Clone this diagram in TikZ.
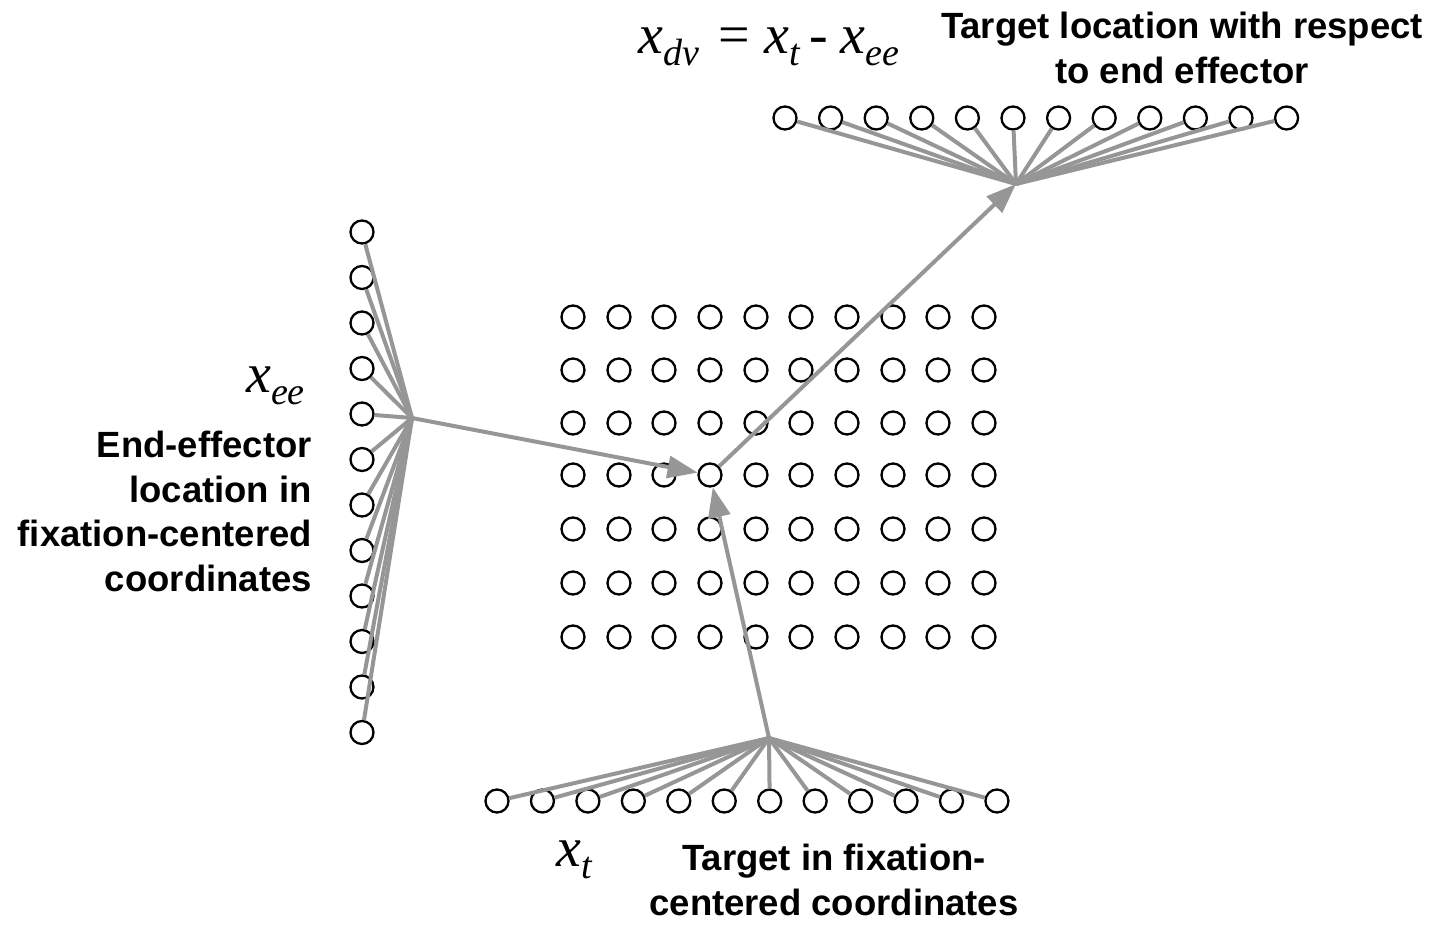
\documentclass[tikz,border=0pt]{standalone}
\usepackage{fontspec}
\setmainfont{Liberation Serif}
\newfontfamily\lsans{Liberation Sans}
\usetikzlibrary{arrows.meta}
\definecolor{lc}{RGB}{150,150,150}
\tikzset{
 unit/.style={circle,draw=black,line width=2.3pt,minimum size=23pt,inner sep=0pt},
 conn/.style={draw=lc,line width=4pt},
 arr/.style={conn,-{Triangle[length=30pt,width=22pt]}},
 lbl/.style={font=\lsans\bfseries\fontsize{36.5}{44.5}\selectfont,inner sep=0pt},
 mth/.style={font=\fontsize{56}{58}\selectfont\itshape,inner sep=0pt}
}
\newcommand\vsub[2]{#1\raisebox{-12pt}{\fontsize{38}{40}\selectfont #2}}
\begin{document}
\begin{tikzpicture}[x=1pt,y=-1pt]
\useasboundingbox (0,0) rectangle (1437,924);
% grid
\foreach \r [count=\i] in {317,370,423,475,529,583,637}{
  \foreach \c [count=\j] in {573,619,664,710,756,801,847,893,938,984}{
    \node[unit] (g-\i-\j) at (\c,\r) {};
  }
}
% input/output populations
\foreach \i in {1,...,12}{
  \node[unit] (l-\i) at (362,{232+(\i-1)*45.5}) {};
  \node[unit] (b-\i) at ({497+(\i-1)*45.45},801) {};
  \node[unit] (t-\i) at ({785+(\i-1)*45.6},118) {};
}
\coordinate (hubL) at (412,418);
\coordinate (hubB) at (769,738);
\coordinate (hubT) at (1016,184);
\foreach \i in {1,...,12}{
  \draw[conn] (l-\i) -- (hubL);
  \draw[conn] (b-\i) -- (hubB);
  \draw[conn] (t-\i) -- (hubT);
}
\draw[arr] (hubL) -- (g-4-4);
\draw[arr] (hubB) -- (g-4-4);
\draw[arr] (g-4-4) -- (hubT);
% labels
\node[mth,anchor=base west] (eq) at (638,53) {\vsub{x}{dv}\hspace*{20pt}{\upshape =}\hspace*{14pt}\vsub{x}{t}\hspace*{10pt}{\upshape -}\hspace*{12pt}\vsub{x}{ee}};
\node[mth,anchor=base west] (xee) at (246,392) {\vsub{x}{ee}};
\node[mth,anchor=base west] (xt) at (556,866) {\vsub{x}{t}};
\node[lbl,align=center,anchor=base] (tl) at (1182,83) {Target location with respect\\to end effector};
\node[lbl,align=right,anchor=base east] (el) at (312,591) {End-effector\\location in\\fixation-centered\\coordinates};
\node[lbl,align=center,anchor=base] (tf) at (834,915) {Target in fixation-\\centered coordinates};
\end{tikzpicture}
\end{document}
